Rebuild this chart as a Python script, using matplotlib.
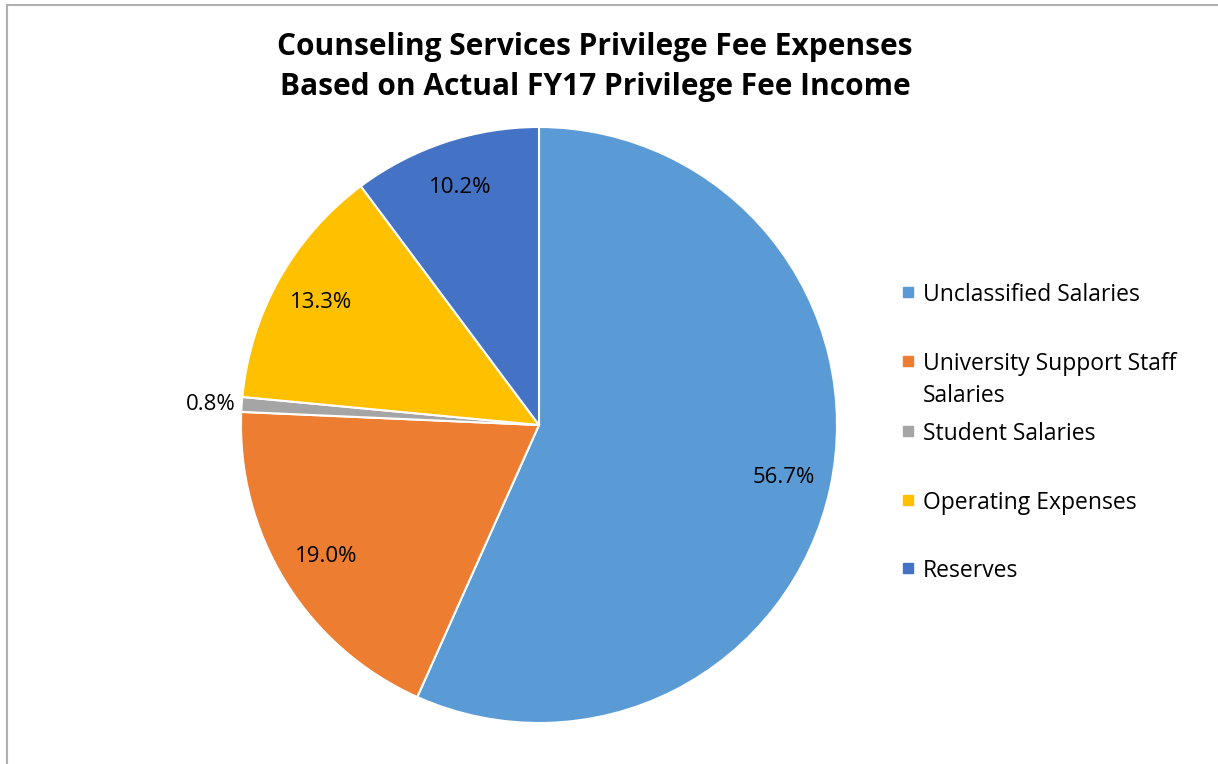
import matplotlib.pyplot as plt
from matplotlib.patches import Rectangle
import numpy as np

# data
categories = ['Unclassified Salaries', 'University Support Staff\nSalaries',
              'Student Salaries', 'Operating Expenses', 'Reserves']
shares = [56.7, 19.0, 0.8, 13.3, 10.2]
colors = ['#5B9BD5', '#ED7D31', '#A5A5A5', '#FFC000', '#4472C4']
title_lines = ['Counseling Services Privilege Fee Expenses',
               'Based on Actual FY17 Privilege Fee Income']

plt.rcParams['font.family'] = ['Open Sans', 'DejaVu Sans']

W, H = 1218, 764
fig = plt.figure(figsize=(W / 100, H / 100), dpi=100)

# pie axes: centre (539, 425) px, radius 298 px
cx, cy, r = 539, 425, 298
ax = fig.add_axes([(cx - r) / W, (H - cy - r) / H, 2 * r / W, 2 * r / H])
wedges, texts, autotexts = ax.pie(
    shares, colors=colors, startangle=90, counterclock=False,
    autopct='%1.1f%%', pctdistance=0.84, radius=1,
    wedgeprops=dict(edgecolor='white', linewidth=1.5),
    textprops=dict(fontsize=16, color='#000000'))
ax.set_xlim(-1, 1)
ax.set_ylim(-1, 1)
ax.set_aspect('equal')

# small slice label goes outside the pie
for w, t, v in zip(wedges, autotexts, shares):
    if v < 2:
        ang = np.deg2rad((w.theta1 + w.theta2) / 2)
        t.set_position((1.02 * np.cos(ang), 1.02 * np.sin(ang)))
        t.set_ha('right')

# title, one text per line
for line, y in zip(title_lines, [47, 87]):
    fig.text(595 / W, 1 - y / H, line, ha='center', va='center',
             fontsize=21.5, fontweight='bold')

# legend drawn by hand to keep Excel-like spacing
leg_y = [292, 361, 431, 500, 568]
for lab, col, y in zip(categories, colors, leg_y):
    fig.patches.append(Rectangle((903 / W, 1 - (y + 5) / H), 10 / W, 10 / H,
                                 transform=fig.transFigure, color=col))
    for k, part in enumerate(lab.split('\n')):
        fig.text(923 / W, 1 - (y + 3 + 32 * k) / H, part, ha='left', va='center',
                 fontsize=16.5)

# chart border (top and left visible)
fig.add_artist(plt.Line2D([7 / W, 7 / W], [0, 1 - 5 / H], color='#B0B0B0', lw=1.5))
fig.add_artist(plt.Line2D([7 / W, 1], [1 - 5 / H, 1 - 5 / H], color='#B0B0B0', lw=1.5))

fig.savefig('out.png', dpi=100)
